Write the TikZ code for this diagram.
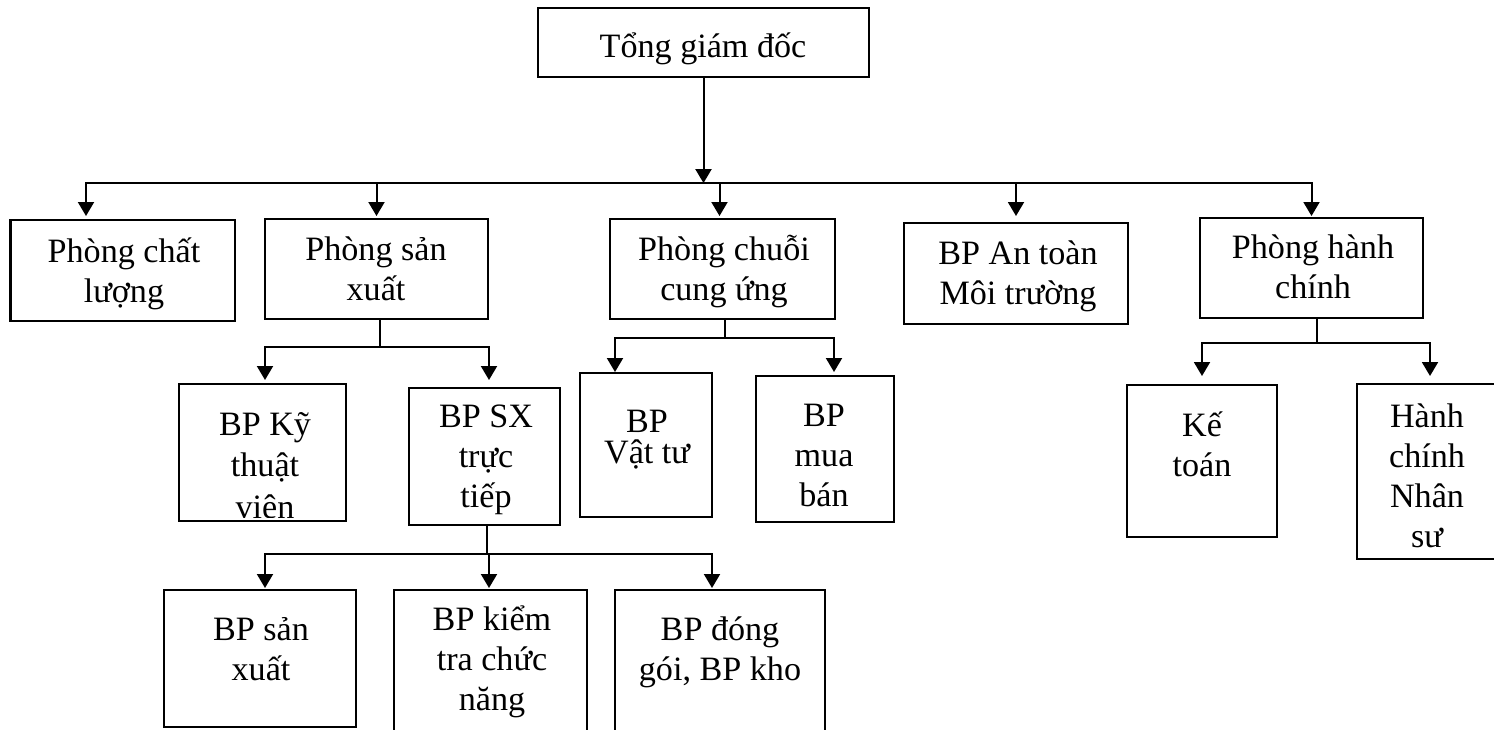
\documentclass[tikz,border=0pt]{standalone}
\usepackage{fontspec}
\setmainfont{Liberation Serif}
\usetikzlibrary{arrows.meta,fit,calc}

\tikzset{
  box/.style={draw, line width=1.6pt, inner sep=0pt},
  conn/.style={line width=1.5pt},
  stub/.style={line width=0.9pt},
  arr/.style={conn, -{Triangle[length=10.5pt,width=12pt]}},
  lbl/.style={anchor=base, align=center, inner sep=0pt, font=\fontsize{25.6}{30}\selectfont},
}

\begin{document}
\begin{tikzpicture}[x=0.75pt,y=0.75pt,yscale=-1,xscale=1]
\useasboundingbox (0,0) rectangle (1494,729);

%Shape: Rectangle [top]
\node[box, fit={(538,8) (869,77)}] (tgd) {};
%Shape: Rectangle [level 1]
\node[box, fit={(10.5,220) (235,321)}] (pcl) {};
\node[box, fit={(265,219) (488,319)}] (psx) {};
\node[box, fit={(610,219) (835,319)}] (pcu) {};
\node[box, fit={(904,223) (1128,324)}] (bpat) {};
\node[box, fit={(1200,218) (1423,318)}] (phc) {};
%Shape: Rectangle [level 2]
\node[box, fit={(179,384) (346,521)}] (bpkt) {};
\node[box, fit={(409,388) (560,525)}] (bpsx) {};
\node[box, fit={(580,373) (712,517)}] (bpvt) {};
\node[box, fit={(756,376) (894,522)}] (bpmb) {};
\node[box, fit={(1127,385) (1277,537)}] (kt) {};
\node[box, fit={(1357,384) (1503,559)}] (hcns) {};
%Shape: Rectangle [level 3]
\node[box, fit={(164,590) (356,727)}] (bpsxu) {};
\node[box, fit={(394,590) (587,745)}] (bpkc) {};
\node[box, fit={(615,590) (825,745)}] (bpdg) {};

%Straight Lines [tips]
\coordinate (t1) at (0,216);
\coordinate (t2) at (0,380);
\coordinate (t3) at (0,372);
\coordinate (t4) at (0,376);
\coordinate (t5) at (0,588);

%Straight Lines [top -> level 1]
\draw[arr] (tgd.south) -- ++(0,105) coordinate (j0);
\draw[arr] (j0) -| ($(pcl.north |- t1)+(-36.75,0)$);
\draw[arr] (j0) -| (psx.north |- t1);
\draw[arr] (j0) -| ($(pcu.north |- t1)+(-3,0)$);
\draw[arr] (j0) -| (bpat.north |- t1);
\draw[arr] (j0) -| (phc.north |- t1);

%Straight Lines [san xuat]
\draw[stub] ($(psx.south)+(3.5,0)$) -- ++(0,27) coordinate (j1);
\draw[arr] (j1) -| ($(bpkt.north |- t2)+(2.5,0)$);
\draw[arr] (j1) -| ($(bpsx.north |- t2)+(4.5,0)$);

%Straight Lines [chuoi cung ung]
\draw[stub] ($(pcu.south)+(2.5,0)$) -- ++(0,18) coordinate (j2);
\draw[arr] (j2) -| ($(bpvt.north |- t3)+(-31,0)$);
\draw[arr] (j2) -| ($(bpmb.north |- t3)+(9,0)$);

%Straight Lines [hanh chinh]
\draw[stub] ($(phc.south)+(5.5,0)$) -- ++(0,24) coordinate (j3);
\draw[arr] (j3) -| (kt.north |- t4);
\draw[arr] (j3) -| (hcns.north |- t4);

%Straight Lines [SX truc tiep]
\draw[stub] ($(bpsx.south)+(2.5,0)$) -- ++(0,28) coordinate (j4);
\draw[arr] (j4) -| ($(bpsxu.north |- t5)+(5,0)$);
\draw[arr] (j4) -| ($(bpkc.north |- t5)+(-1.5,0)$);
\draw[arr] (j4) -| ($(bpdg.north |- t5)+(-8,0)$);

% Text Node (base = last line)
\node[lbl] (tgdt) at (703,57) {Tổng giám đốc};
% Text Node
\node[lbl] (pclt) at (124,302) {Phòng chất\\lượng};
\node[lbl] (psxt) at (376,300) {Phòng sản\\xuất};
\node[lbl] (pcut) at (724,300) {Phòng chuỗi\\cung ứng};
\node[lbl] (bpatt) at (1018,304) {BP An toàn\\Môi trường};
\node[lbl] (phct) at (1313,298) {Phòng hành\\chính};
% Text Node (last line cut by the box)
\begin{scope}
\clip (bpkt.north west) rectangle ($(bpkt.south east)+(0,-5)$);
\node[lbl, font=\fontsize{25.6}{31}\selectfont] (bpktt) at (265,518) {BP Kỹ\\thuật\\viên};
\end{scope}
\node[lbl] (bpsxt) at (486,507) {BP SX\\trực\\tiếp};
\node[lbl, font=\fontsize{25.6}{23.25}\selectfont] (bpvtt) at (647,463) {BP\\Vật tư};
\node[lbl] (bpmbt) at (824,506) {BP\\mua\\bán};
\node[lbl] (ktt) at (1202,476) {Kế\\toán};
\node[lbl] (hcnst) at (1427,547) {Hành\\chính\\Nhân\\sư};
% Text Node
\node[lbl] (bpsxut) at (261,680) {BP sản\\xuất};
\node[lbl] (bpkct) at (492,710) {BP kiểm\\tra chức\\năng};
\node[lbl] (bpdgt) at (720,680) {BP đóng\\gói, BP kho};
\end{tikzpicture}
\end{document}
